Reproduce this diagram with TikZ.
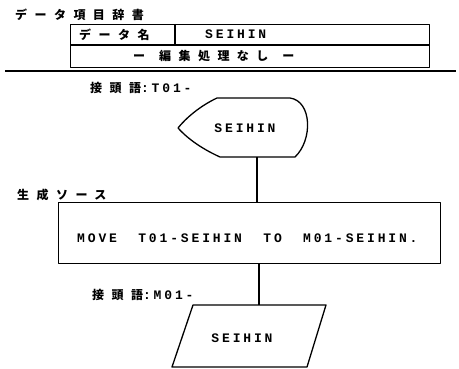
\documentclass[tikz,border=0pt]{standalone}
\usepackage{fontspec}
\newfontfamily\jpf{Noto Sans CJK JP}[LetterSpace=62]
\newfontfamily\dotf{Liberation Mono}[LetterSpace=22]
\newcommand\jpsz{\jpf\bfseries\fontsize{12}{13}\selectfont}
\newcommand\dmsz{\dotf\bfseries\fontsize{13}{14}\selectfont}
\tikzset{
  jp/.style={font=\jpsz, inner sep=0pt},
  dm/.style={font=\dmsz, inner sep=0pt},
  ln/.style={line width=1.3pt, line join=round},
}
\begin{document}
\begin{tikzpicture}[x=1pt,y=-1pt]
\useasboundingbox (0,0) rectangle (459,369);
% header
\node[jp, anchor=west] (hdr) at (15,15) {データ項目辞書};
\node[draw, ln, minimum width=359pt, minimum height=43pt, inner sep=0pt, anchor=north west] (tbl) at (70,24) {};
\coordinate (midL) at (70,45);
\coordinate (midR) at (429,45);
\coordinate (divT) at (175,24);
\draw[ln] (midL) -- (midR);
\draw[ln] (divT) -- (divT |- midL);
\node[jp, anchor=west] (dname) at (79,34.5) {データ名};
\node[dm, anchor=west] (dval) at (205,34.5) {SEIHIN};
\node[jp, anchor=west] (edit) at (133,56) {ー\kern14pt 編集処理なし\kern14pt ー};
\coordinate (lineL) at (5,71);
\coordinate (lineR) at (456,71);
\draw[line width=1.6pt] (lineL) -- (lineR);
% label T01
\node[anchor=west, inner sep=0pt] (lblT) at (90,88) {\jpsz 接頭語\dmsz :T01-};
% display shape
\draw[ln] (217,98) -- (290,98) .. controls (312,101) and (313,140) .. (295,157)
  -- (220,157) .. controls (200,148) and (186,137) .. (178,128)
  .. controls (186,118) and (200,106) .. (217,98) -- cycle;
\node[dm] (dispText) at (245,128) {SEIHIN};
\coordinate (dispS) at (257,157);
% label source
\node[jp, anchor=west] (lblSrc) at (17,195) {生成ソース};
\node[draw, ln, minimum width=382pt, minimum height=61pt, inner sep=0pt, anchor=north west] (src) at (58,202) {};
\node[dm, anchor=west] (srcText) at (77,238) {MOVE\ \ T01-SEIHIN\ \ TO\ \ M01-SEIHIN.};
\draw[ln] (dispS) -- (dispS |- src.north);
% label M01
\node[anchor=west, inner sep=0pt] (lblM) at (92,295) {\jpsz 接頭語\dmsz :M01-};
% parallelogram
\coordinate (parN) at (259,305);
\draw[ln] (193,305) -- (326,305) -- (307,367) -- (172,367) -- cycle;
\node[dm] (parText) at (242,338) {SEIHIN};
\draw[ln] (parN |- src.south) -- (parN);
\end{tikzpicture}
\end{document}
